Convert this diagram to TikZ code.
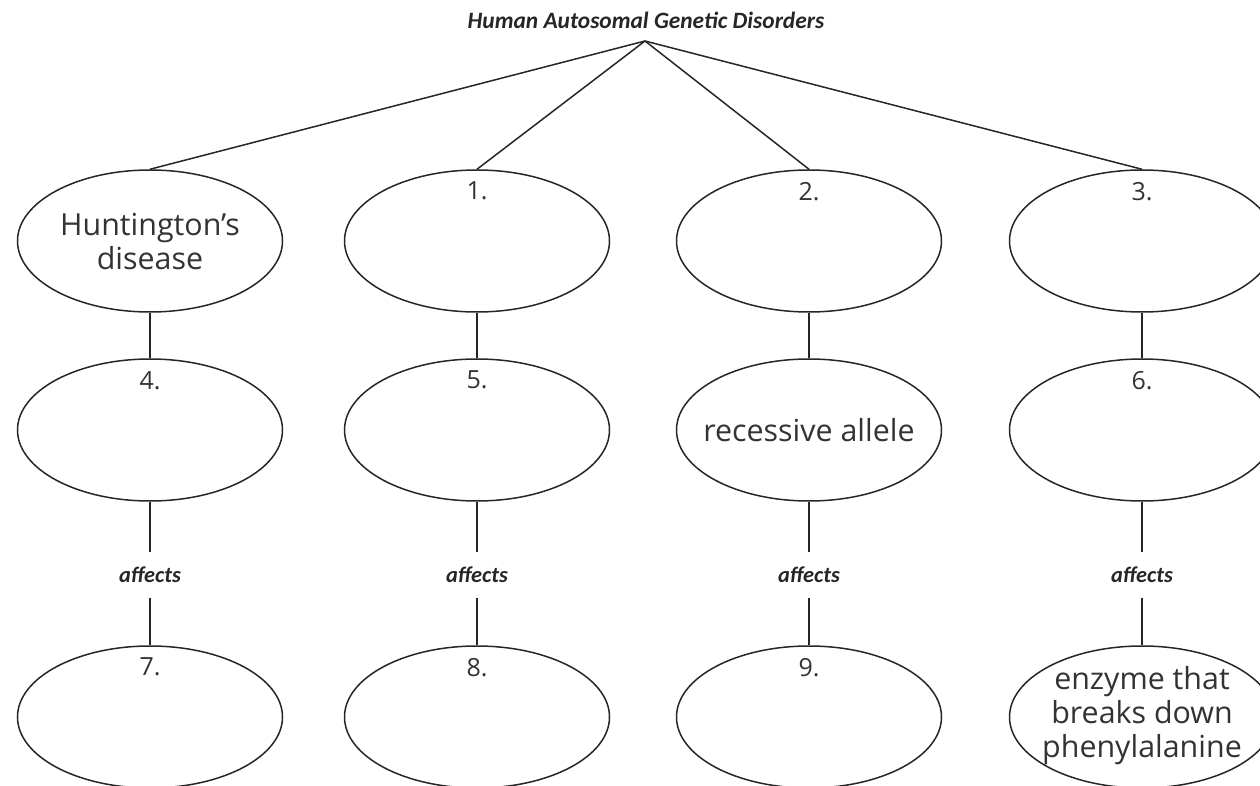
\documentclass[tikz,border=0pt]{standalone}
\usepackage{fontspec}
\setmainfont{Open Sans}
\newfontfamily\condfont{Carlito}
\usetikzlibrary{shapes.geometric,calc}
\begin{document}
\begin{tikzpicture}[x=0.5pt,y=-0.5pt,
  bub/.style={ellipse,draw=black!85,line width=0.75pt,minimum width=132.5pt,minimum height=71pt,inner sep=0pt},
  txt/.style={align=center,font=\fontsize{15.2}{17}\selectfont,text=black!80,inner sep=0pt},
  num/.style={font=\fontsize{12.5}{14}\selectfont,text=black!80,inner sep=0pt},
  conn/.style={draw=black!85,line width=0.75pt},
  aff/.style={font=\condfont\bfseries\itshape\fontsize{11.2}{12}\selectfont,text=black!85,inner sep=0pt,minimum height=23pt},
  ttl/.style={font=\condfont\bfseries\itshape\fontsize{11.7}{13}\selectfont,text=black!85,inner sep=0pt}]
\useasboundingbox (0,0) rectangle (1260,786);
\node[ttl] (title) at (646,20) {Human Autosomal Genetic Disorders};
\coordinate (apex) at (645,41);
% row 1
\node[bub] (a1) at (150,241) {};
\node[bub] (b1) at (477,241) {};
\node[bub] (c1) at (809,241) {};
\node[bub] (d1) at (1142,241) {};
% row 2
\node[bub] (a2) at (150,430) {};
\node[bub] (b2) at (477,430) {};
\node[bub] (c2) at (809,430) {};
\node[bub] (d2) at (1142,430) {};
% row 3
\node[bub] (a3) at (150,717) {};
\node[bub] (b3) at (477,717) {};
\node[bub] (c3) at (809,717) {};
\node[bub] (d3) at (1142,717) {};
% texts inside ellipses
\node[txt] (ta1) at (a1) {Huntington’s\\disease};
\node[txt] (tc2) at (c2) {recessive allele};
\node[txt] (td3) at ($(d3)+(0,-1)$) {enzyme that\\breaks down\\phenylalanine};
% numbers
\node[num] (n1) at ($(b1.north)+(0,22)$) {1.};
\node[num] (n2) at ($(c1.north)+(0,22)$) {2.};
\node[num] (n3) at ($(d1.north)+(0,22)$) {3.};
\node[num] (n4) at ($(a2.north)+(0,22)$) {4.};
\node[num] (n5) at ($(b2.north)+(0,22)$) {5.};
\node[num] (n6) at ($(d2.north)+(0,22)$) {6.};
\node[num] (n7) at ($(a3.north)+(0,22)$) {7.};
\node[num] (n8) at ($(b3.north)+(0,22)$) {8.};
\node[num] (n9) at ($(c3.north)+(0,22)$) {9.};
% affects labels
\node[aff] (fa) at (150,575) {affects};
\node[aff] (fb) at (477,575) {affects};
\node[aff] (fc) at (809,575) {affects};
\node[aff] (fd) at (1142,575) {affects};
% connectors
\draw[conn] (apex) -- (a1.north);
\draw[conn] (apex) -- (b1.north);
\draw[conn] (apex) -- (c1.north);
\draw[conn] (apex) -- (d1.north);
\foreach \c in {a,b,c,d}{
  \draw[conn] (\c1.south) -- (\c2.north);
  \draw[conn] (\c2.south) -- (f\c.north);
  \draw[conn] (f\c.south) -- (\c3.north);
}
\end{tikzpicture}
\end{document}
